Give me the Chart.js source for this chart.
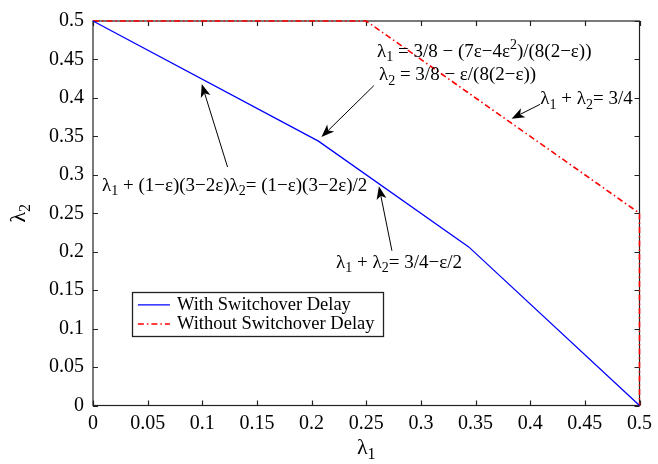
<!DOCTYPE html>
<html><head><meta charset="utf-8">
<script src="https://cdn.jsdelivr.net/npm/chart.js@4/dist/chart.umd.min.js"></script>
<style>html,body{margin:0;padding:0;background:#fff}</style>
</head><body>
<canvas id="c" width="658" height="464"></canvas>
<script>
// ---- data ----
const tickValues = [0, 0.05, 0.1, 0.15, 0.2, 0.25, 0.3, 0.35, 0.4, 0.45, 0.5];
const xTickLabels = ['0', '0.05', '0.1', '0.15', '0.2', '0.25', '0.3', '0.35', '0.4', '0.45', '0.5'];
const yTickLabels = ['0', '0.05', '0.1', '0.15', '0.2', '0.25', '0.3', '0.35', '0.4', '0.45', '0.5'];
const seriesNames = ['With Switchover Delay', 'Without Switchover Delay'];
const withDelayX = [0, 0.20625, 0.34375, 0.5];
const withDelayY = [0.5, 0.34375, 0.20625, 0];
const withoutDelayX = [0, 0.25, 0.5, 0.5];
const withoutDelayY = [0.5, 0.5, 0.25, 0];
// annotations (text with _x subscript and ^x superscript markup), anchored in data units
const annotationTexts = [
  'λ_1 + (1−ε)(3−2ε)λ_2= (1−ε)(3−2ε)/2',
  'λ_1 = 3/8 − (7ε−4ε^2)/(8(2−ε))',
  'λ_2 = 3/8 − ε/(8(2−ε))',
  'λ_1 + λ_2= 3/4',
  'λ_1 + λ_2= 3/4−ε/2'
];
const annotationAnchors = [[0.0082, 0.2855], [0.2598, 0.4603], [0.2616, 0.4292], [0.4093, 0.3981], [0.2224, 0.1858]];
// arrows: [tailX, tailY, headX, headY] in data units
const arrows = [
  [0.1231, 0.3101, 0.0995, 0.418],
  [0.2570, 0.4160, 0.2090, 0.349],
  [0.4090, 0.3916, 0.3830, 0.373],
  [0.2735, 0.2013, 0.2616, 0.285]
];
const legendBox = [0.0356, 0.147, 0.2653, 0.090];

const FONT = "'Liberation Serif', 'Times New Roman', serif";

function drawRich(ctx, str, x, y, size, align) {
  const parts = [];
  for (let i = 0; i < str.length; i++) {
    const c = str[i];
    if ((c === '_' || c === '^') && i + 1 < str.length) {
      parts.push([str[i + 1], c === '_' ? 1 : 2]);
      i++;
    } else {
      if (parts.length && parts[parts.length - 1][1] === 0) parts[parts.length - 1][0] += c;
      else parts.push([c, 0]);
    }
  }
  const small = Math.round(size * 0.72);
  let total = 0;
  const ws = parts.map(p => {
    ctx.font = (p[1] ? small : size) + 'px ' + FONT;
    const w = ctx.measureText(p[0]).width;
    total += w;
    return w;
  });
  let cx = align === 'center' ? x - total / 2 : x;
  ctx.textBaseline = 'middle';
  ctx.textAlign = 'left';
  parts.forEach((p, i) => {
    ctx.font = (p[1] ? small : size) + 'px ' + FONT;
    const dy = p[1] === 1 ? size * 0.3 : (p[1] === 2 ? -size * 0.35 : 0);
    ctx.fillText(p[0], cx, y + dy);
    cx += ws[i];
  });
}

function drawArrow(ctx, x1, y1, x2, y2) {
  const ang = Math.atan2(y2 - y1, x2 - x1);
  const L = 13, W = 5, back = 9.5;
  ctx.beginPath();
  ctx.moveTo(x1, y1);
  ctx.lineTo(x2 - Math.cos(ang) * back, y2 - Math.sin(ang) * back);
  ctx.stroke();
  ctx.beginPath();
  ctx.moveTo(x2, y2);
  ctx.lineTo(x2 - L * Math.cos(ang) + W * Math.sin(ang), y2 - L * Math.sin(ang) - W * Math.cos(ang));
  ctx.lineTo(x2 - back * Math.cos(ang), y2 - back * Math.sin(ang));
  ctx.lineTo(x2 - L * Math.cos(ang) - W * Math.sin(ang), y2 - L * Math.sin(ang) + W * Math.cos(ang));
  ctx.closePath();
  ctx.fill();
}

const frame = {
  id: 'frame',
  beforeDatasetsDraw(chart) {
    const ctx = chart.ctx, a = chart.chartArea, xs = chart.scales.x, ys = chart.scales.y;
    ctx.save();
    ctx.strokeStyle = '#222';
    ctx.lineWidth = 1.2;
    ctx.strokeRect(a.left, a.top, a.right - a.left, a.bottom - a.top);
    const T = 5;
    ctx.beginPath();
    tickValues.forEach(v => {
      const px = Math.round(xs.getPixelForValue(v)) + 0.5;
      ctx.moveTo(px, a.bottom); ctx.lineTo(px, a.bottom - T);
      ctx.moveTo(px, a.top); ctx.lineTo(px, a.top + T);
      const py = Math.round(ys.getPixelForValue(v)) + 0.5;
      ctx.moveTo(a.left, py); ctx.lineTo(a.left + T, py);
      ctx.moveTo(a.right, py); ctx.lineTo(a.right - T, py);
    });
    ctx.stroke();
    ctx.restore();
  },
  afterDatasetsDraw(chart) {
    const ctx = chart.ctx, a = chart.chartArea, xs = chart.scales.x, ys = chart.scales.y;
    ctx.save();
    ctx.fillStyle = '#000';
    ctx.strokeStyle = '#000';
    ctx.lineWidth = 1;
    // annotations
    annotationTexts.forEach((t, i) => {
      drawRich(ctx, t, xs.getPixelForValue(annotationAnchors[i][0]), ys.getPixelForValue(annotationAnchors[i][1]), 19, 'left');
    });
    arrows.forEach(r => {
      drawArrow(ctx, xs.getPixelForValue(r[0]), ys.getPixelForValue(r[1]), xs.getPixelForValue(r[2]), ys.getPixelForValue(r[3]));
    });
    // legend
    const lx1 = xs.getPixelForValue(legendBox[0]), ly1 = ys.getPixelForValue(legendBox[1]);
    const lx2 = xs.getPixelForValue(legendBox[2]), ly2 = ys.getPixelForValue(legendBox[3]);
    ctx.fillStyle = '#fff';
    ctx.fillRect(lx1, ly1, lx2 - lx1, ly2 - ly1);
    ctx.strokeStyle = '#222';
    ctx.lineWidth = 1.3;
    ctx.strokeRect(Math.round(lx1) + 0.5, Math.round(ly1) + 0.5, Math.round(lx2 - lx1), Math.round(ly2 - ly1));
    chart.data.datasets.forEach((ds, i) => {
      const ry = ly1 + 12.5 + i * 19;
      ctx.save();
      ctx.strokeStyle = ds.borderColor;
      ctx.lineWidth = ds.borderWidth;
      ctx.setLineDash(ds.borderDash || []);
      ctx.beginPath();
      ctx.moveTo(lx1 + 6, ry); ctx.lineTo(lx1 + 38, ry);
      ctx.stroke();
      ctx.restore();
      ctx.fillStyle = '#000';
      drawRich(ctx, ds.label, lx1 + 45, ry, 18.5, 'left');
    });
    // axis titles
    drawRich(ctx, 'λ_1', (a.left + a.right) / 2, 448, 22, 'center');
    ctx.save();
    ctx.translate(19, (a.top + a.bottom) / 2);
    ctx.rotate(-Math.PI / 2);
    drawRich(ctx, 'λ_2', 0, 0, 22, 'center');
    ctx.restore();
    ctx.restore();
  }
};

const tickFont = { family: FONT, size: 20 };
new Chart(document.getElementById('c'), {
  type: 'scatter',
  data: {
    datasets: [
      {
        label: seriesNames[0],
        data: withDelayX.map((x, i) => ({ x, y: withDelayY[i] })),
        showLine: true, borderColor: '#0000ff', borderWidth: 1.3, pointRadius: 0, clip: false, fill: false
      },
      {
        label: seriesNames[1],
        data: withoutDelayX.map((x, i) => ({ x, y: withoutDelayY[i] })),
        showLine: true, borderColor: '#ff0000', borderWidth: 1.6, borderDash: [6, 3, 1.5, 3], pointRadius: 0, clip: false, fill: false
      }
    ]
  },
  options: {
    responsive: false,
    animation: false,
    devicePixelRatio: 1,
    layout: { padding: { left: 0, right: 16.5, top: 19.3, bottom: 0 } },
    plugins: { legend: { display: false }, tooltip: { enabled: false } },
    scales: {
      x: {
        type: 'linear', min: 0, max: 0.5,
        afterBuildTicks: s => { s.ticks = tickValues.map(v => ({ value: v })); },
        afterFit: s => { s.height = 58.5; },
        ticks: { callback: (v, i) => xTickLabels[i], font: tickFont, color: '#000', padding: 6, maxRotation: 0, autoSkip: false },
        grid: { display: false, drawTicks: false },
        border: { display: false }
      },
      y: {
        type: 'linear', min: 0, max: 0.5,
        afterBuildTicks: s => { s.ticks = tickValues.map(v => ({ value: v })); },
        afterFit: s => { s.width = 93; },
        ticks: { callback: (v, i) => yTickLabels[i], font: tickFont, color: '#000', padding: 9, autoSkip: false },
        grid: { display: false, drawTicks: false },
        border: { display: false }
      }
    }
  },
  plugins: [frame]
});
</script>
</body></html>
